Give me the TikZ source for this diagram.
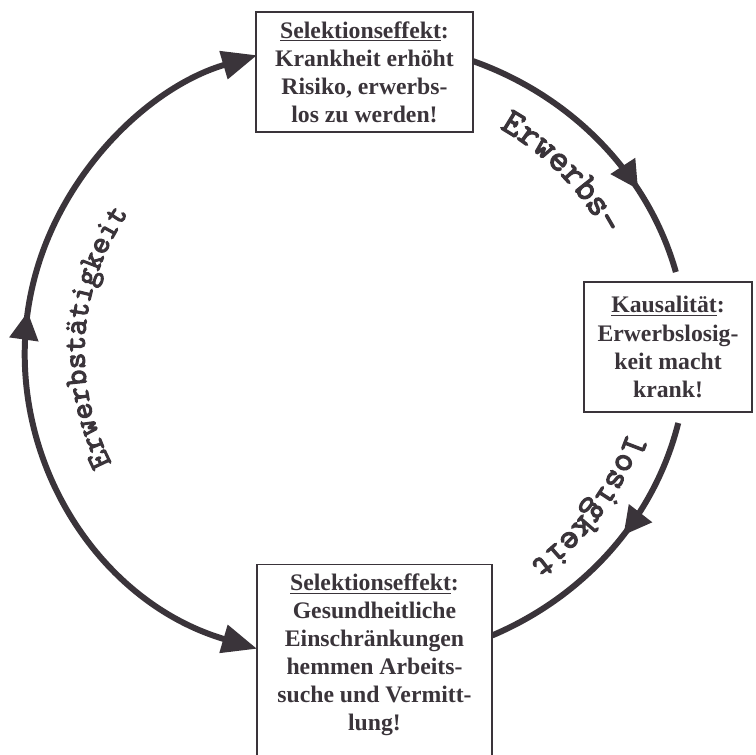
\documentclass[tikz,border=0pt]{standalone}
\usepackage{fontspec}
\setmainfont{Liberation Serif}
\newfontfamily\ringfont{Latin Modern Mono}[FakeBold=3.5]
\usetikzlibrary{arrows.meta,decorations.markings,decorations.text}
\definecolor{ink}{RGB}{58,52,58}

\begin{document}
\begin{tikzpicture}[x=0.02cm, y=0.02cm,
	box/.style={draw=ink, line width=0.85pt, align=center, text=ink, inner sep=0pt,
		font=\bfseries\fontsize{13.5}{16}\selectfont},
	ring/.style={draw=ink, line width=3.4pt},
	midarrow/.style={postaction={decorate}, decoration={markings,
		mark=at position #1 with {\arrow{Triangle[length=0.56cm, width=0.56cm]}}}},
	endtip/.style={arrows={Triangle[length=0.7cm, width=0.56cm]-Triangle[length=0.7cm, width=0.56cm]}},
]

%\ringlabel{size}{text}{scale}{from}{to}
\newcommand*{\ringlabel}[5]{%
	\path [decorate, decoration={text along path, text align=center,
		text={|\ringfont\fontsize{#1}{#1}\selectfont\color{ink}|#2}}]
		([shift={(#4:{#3*\rx} and {#3*\ry})}]C) arc [start angle=#4, end angle=#5, x radius=#3*\rx, y radius=#3*\ry];
}

\def\cx{356}
\def\cy{403}
\def\rx{331}
\def\ry{311}

\useasboundingbox (0,0) rectangle (755,755);
\coordinate (C) at (\cx,\cy);

% boxes
\node [box, minimum width=4.34cm, minimum height=2.4cm] (selTop) at (364.5,683)
	{\underline{Selektionseffekt}:\\Krankheit erhöht\\Risiko, erwerbs-\\los zu werden!};
\node [box, minimum width=3.36cm, minimum height=2.6cm] (kausal) at (668,408)
	{\underline{Kausalität}:\\Erwerbslosig-\\keit macht\\krank!};
\node [box, anchor=north, minimum width=4.7cm] (selBot) at (374.5,191)
	{\parbox[t][5cm][t]{4.6cm}{\centering\vspace*{5pt}\underline{Selektionseffekt}:\\Gesundheitliche\\Einschränkungen\\hemmen Arbeits-\\suche und Vermitt-\\lung!}};

% ring points
\coordinate (selTopE) at ([shift={(69.3:{\rx} and {\ry})}]C);
\coordinate (kausalN) at ([shift={(14.9:{\rx} and {\ry})}]C);
\coordinate (kausalS) at ([shift={(-13.2:{\rx} and {\ry})}]C);
\coordinate (selBotE) at ([shift={(-65.7:{\rx} and {\ry})}]C);
\coordinate (selBotW) at ([shift={(252.6:{\rx} and {\ry})}]C);
\coordinate (selTopW) at ([shift={(107.4:{\rx} and {\ry})}]C);

% arcs
\draw [ring, midarrow=0.7] (selTopE) arc [start angle=69.3, end angle=14.9, x radius=\rx, y radius=\ry];
\draw [ring, midarrow=0.43] (kausalS) arc [start angle=-13.2, end angle=-65.7, x radius=\rx, y radius=\ry];
\draw [ring, endtip, midarrow=0.55] (selBotW) arc [start angle=252.6, end angle=107.4, x radius=\rx, y radius=\ry];

% labels
\ringlabel{21}{Erwerbs-}{0.84}{70}{15}
\ringlabel{20.3}{losigkeit}{0.86}{-10}{-60}
\ringlabel{18.2}{Erwerbstätigkeit}{0.82}{215}{138}

\end{tikzpicture}
\end{document}
